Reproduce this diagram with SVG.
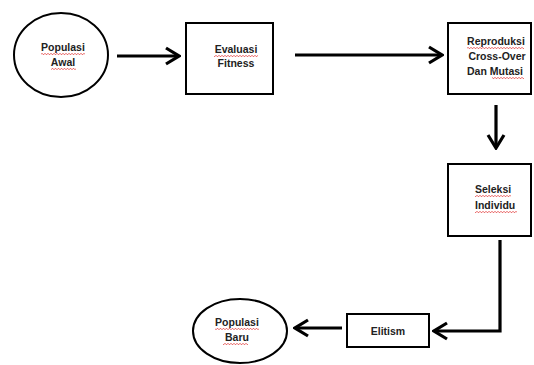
<svg xmlns="http://www.w3.org/2000/svg" width="534" height="365" viewBox="0 0 534 365">
<style>
.shape{fill:#fff;stroke:#000;stroke-width:2}
.lbl{font-family:"Liberation Sans",Arial,sans-serif;font-weight:bold;font-size:10.5px;fill:#222;text-anchor:middle}
.conn{fill:none;stroke:#000;stroke-width:3.2}
.sq{fill:url(#squig)}
</style>
<defs>
<marker id="ah" markerUnits="userSpaceOnUse" viewBox="0 0 16 20" markerWidth="16" markerHeight="20" refX="14" refY="10" orient="auto">
<path d="M1 2 L14 10 L1 18" fill="none" stroke="#000" stroke-width="3.2" stroke-linejoin="miter"/>
</marker>
<pattern id="squig" patternUnits="userSpaceOnUse" width="3" height="2">
<path d="M0 1.8 L1.5 0.2 L3 1.8" fill="none" stroke="#e03030" stroke-width="0.8"/>
</pattern>
</defs>
<g id="connectors">
<line class="conn" x1="117" y1="56" x2="179" y2="56" marker-end="url(#ah)"/>
<line class="conn" x1="295" y1="55" x2="442" y2="55" marker-end="url(#ah)"/>
<line class="conn" x1="496" y1="105" x2="496" y2="148" marker-end="url(#ah)"/>
<polyline class="conn" points="500,240 500,331 434,331" marker-end="url(#ah)"/>
<line class="conn" x1="342" y1="328" x2="295" y2="328" marker-end="url(#ah)"/>
</g>
<g id="populasi-awal">
<ellipse class="shape" cx="61" cy="55" rx="47" ry="42"/>
<text class="lbl" x="63" y="51">Populasi</text>
<text class="lbl" x="63" y="66">Awal</text>
<rect class="sq" x="41" y="53" width="44" height="2"/>
<rect class="sq" x="51" y="68" width="25" height="2"/>
</g>
<g id="evaluasi-fitness">
<rect class="shape" x="186" y="23" width="87" height="71"/>
<text class="lbl" x="236" y="53">Evaluasi</text>
<text class="lbl" x="236" y="67">Fitness</text>
<rect class="sq" x="214" y="55" width="44" height="2"/>
</g>
<g id="reproduksi">
<rect class="shape" x="448" y="23" width="83" height="71"/>
<text class="lbl" x="496" y="45">Reproduksi</text>
<text class="lbl" x="497" y="60">Cross-Over</text>
<text class="lbl" x="495" y="75">Dan Mutasi</text>
<rect class="sq" x="467" y="47" width="57" height="2"/>
<rect class="sq" x="492" y="77" width="32" height="2"/>
</g>
<g id="seleksi-individu">
<rect class="shape" x="448" y="164" width="83" height="72"/>
<text class="lbl" x="475" y="193" style="text-anchor:start">Seleksi</text>
<text class="lbl" x="475" y="209" style="text-anchor:start">Individu</text>
<rect class="sq" x="475" y="195" width="36" height="2"/>
<rect class="sq" x="475" y="211" width="42" height="2"/>
</g>
<g id="elitism">
<rect class="shape" x="347" y="314" width="82" height="33"/>
<text class="lbl" x="388" y="335">Elitism</text>
</g>
<g id="populasi-baru">
<ellipse class="shape" cx="240" cy="331" rx="47" ry="32"/>
<text class="lbl" x="237" y="326">Populasi</text>
<text class="lbl" x="237" y="341">Baru</text>
<rect class="sq" x="215" y="328" width="44" height="2"/>
<rect class="sq" x="223" y="343" width="25" height="2"/>
</g>
</svg>
